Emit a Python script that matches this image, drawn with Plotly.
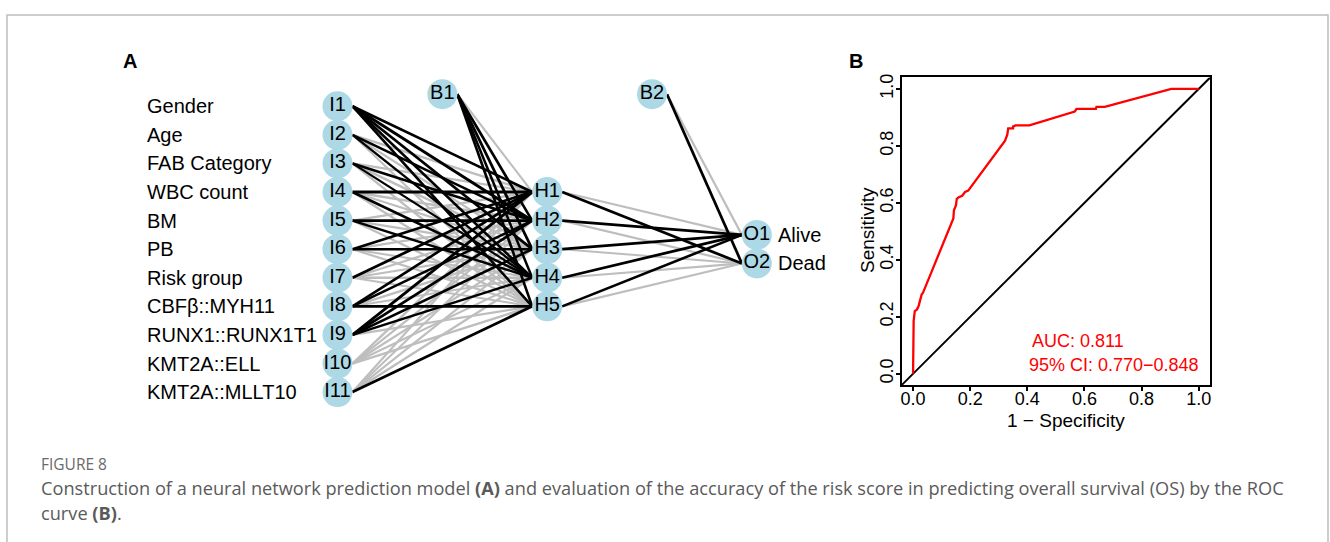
import plotly.graph_objects as go

# ---------------- data ----------------
input_labels = ["Gender", "Age", "FAB Category", "WBC count", "BM", "PB",
                "Risk group", "CBF\u03b2::MYH11", "RUNX1::RUNX1T1",
                "KMT2A::ELL", "KMT2A::MLLT10"]
input_nodes = [f"I{i}" for i in range(1, 12)]
hidden_nodes = ["H1", "H2", "H3", "H4", "H5"]
output_nodes = ["O1", "O2"]
output_labels = ["Alive", "Dead"]

# input -> hidden weights (rows: I1..I11, cols: H1..H5)
w_input_hidden = [
    [0.8, 1.0, 0.9, 0.7, 0.8],
    [-0.6, 0.7, -0.5, 0.6, -0.4],
    [-0.5, 0.8, -0.6, 0.5, -0.6],
    [1.0, -0.6, -0.5, 0.8, -0.6],
    [-0.6, 0.9, -0.5, 0.7, -0.5],
    [0.8, -0.5, 0.7, -0.4, -0.5],
    [0.9, -0.5, -0.5, -0.6, -0.4],
    [0.8, 0.7, -0.5, -0.4, 0.9],
    [1.0, 0.9, 0.8, 0.7, -0.5],
    [-0.6, -0.5, -0.5, -0.4, -0.6],
    [-0.5, -0.4, -0.5, -0.6, 0.9],
]
w_bias1_hidden = [-0.4, 0.8, 0.9, 0.7, 0.8]
# hidden -> output weights (rows: H1..H5, cols: O1, O2)
w_hidden_output = [
    [-0.5, 0.9],
    [0.9, -0.5],
    [0.8, -0.4],
    [0.9, -0.5],
    [0.8, -0.5],
]
w_bias2_output = [-0.5, 0.9]

# ROC curve of the risk score
fpr = [0.000, 0.000, 0.002, 0.006, 0.013, 0.017, 0.020, 0.030, 0.035, 0.141,
       0.143, 0.150, 0.153, 0.160, 0.172, 0.182, 0.193, 0.322, 0.330, 0.333,
       0.350, 0.350, 0.359, 0.407, 0.566, 0.572, 0.640, 0.642, 0.671, 0.904,
       1.000]
tpr = [0.000, 0.110, 0.185, 0.220, 0.225, 0.232, 0.240, 0.278, 0.285, 0.545,
       0.574, 0.591, 0.614, 0.620, 0.625, 0.638, 0.643, 0.818, 0.840, 0.861,
       0.861, 0.868, 0.872, 0.872, 0.920, 0.930, 0.930, 0.937, 0.937, 1.000,
       1.000]
auc_value = 0.811
ci_low, ci_high = 0.770, 0.848
roc_ticks = [0.0, 0.2, 0.4, 0.6, 0.8, 1.0]

# ---------------- styling / layout ----------------
W, H = 1330, 542
FONT = "Liberation Sans, Arial, sans-serif"
CAP_FONT = "Open Sans, sans-serif"
NODE_COLOR = "#ADD8E6"
POS_COLOR = "black"
NEG_COLOR = "#BEBEBE"

# network geometry in axis units (layers on x, node slots on y)
X_IN, X_HID, X_OUT = 1.0, 2.0, 3.0
X_B1, X_B2 = 1.5, 2.5
Y_BIAS = -0.42
CENTER = (len(input_nodes) - 1) / 2
NODE_R = 15 / 210  # node radius in x-axis units


def layer_y(n):
    return [CENTER + (j - (n - 1) / 2) for j in range(n)]


y_in = layer_y(len(input_nodes))
y_hid = layer_y(len(hidden_nodes))
y_out = layer_y(len(output_nodes))

fig = go.Figure()
max_w = max(abs(v) for row in w_input_hidden + w_hidden_output for v in row)


def edge(x0, y0, x1, y1, w):
    fig.add_trace(go.Scatter(
        x=[x0 + NODE_R, x1 - NODE_R], y=[y0, y1], mode="lines",
        line=dict(color=POS_COLOR if w > 0 else NEG_COLOR,
                  width=1.5 + 1.4 * abs(w) / max_w),
        hoverinfo="skip", showlegend=False, xaxis="x", yaxis="y"))


# grey (negative) edges first, black (positive) edges drawn on top
for sign_pass in (False, True):
    for i, yi in enumerate(y_in):
        for j, yj in enumerate(y_hid):
            w = w_input_hidden[i][j]
            if (w > 0) == sign_pass:
                edge(X_IN, yi, X_HID, yj, w)
    for j, yj in enumerate(y_hid):
        w = w_bias1_hidden[j]
        if (w > 0) == sign_pass:
            edge(X_B1, Y_BIAS, X_HID, yj, w)
    for j, yj in enumerate(y_hid):
        for k, yk in enumerate(y_out):
            w = w_hidden_output[j][k]
            if (w > 0) == sign_pass:
                edge(X_HID, yj, X_OUT, yk, w)
    for k, yk in enumerate(y_out):
        w = w_bias2_output[k]
        if (w > 0) == sign_pass:
            edge(X_B2, Y_BIAS, X_OUT, yk, w)

# nodes
node_x = ([X_IN] * len(input_nodes) + [X_HID] * len(hidden_nodes)
          + [X_OUT] * len(output_nodes) + [X_B1, X_B2])
node_y = y_in + y_hid + y_out + [Y_BIAS, Y_BIAS]
node_t = input_nodes + hidden_nodes + output_nodes + ["B1", "B2"]
fig.add_trace(go.Scatter(
    x=node_x, y=node_y, text=node_t, mode="markers+text",
    textposition="middle center",
    textfont=dict(family=FONT, size=20, color="black"),
    marker=dict(size=30, color=NODE_COLOR, line=dict(width=0)),
    hoverinfo="skip", showlegend=False, xaxis="x", yaxis="y"))

annotations = []
LABEL_X = X_IN - 193 / 210
for lab, yy in zip(input_labels, y_in):
    annotations.append(dict(x=LABEL_X, y=yy, xref="x", yref="y", text=lab,
                            showarrow=False, xanchor="left", yanchor="middle",
                            font=dict(family=FONT, size=20, color="black")))
for lab, yy in zip(output_labels, y_out):
    annotations.append(dict(x=X_OUT + 19 / 210, y=yy, xref="x", yref="y",
                            text=lab, showarrow=False, xanchor="left",
                            yanchor="middle",
                            font=dict(family=FONT, size=20, color="black")))

# ROC panel
fig.add_trace(go.Scatter(
    x=[-0.04, 1.04], y=[-0.04, 1.04], mode="lines",
    line=dict(color="black", width=2), hoverinfo="skip", showlegend=False,
    xaxis="x2", yaxis="y2", cliponaxis=False))
fig.add_trace(go.Scatter(
    x=fpr, y=tpr, mode="lines", line=dict(color="#FF0000", width=2.3),
    line_shape="linear", hoverinfo="skip", showlegend=False,
    xaxis="x2", yaxis="y2"))
annotations.append(dict(x=0.410, y=0.115, xref="x2", yref="y2",
                        text=f"AUC: {auc_value:.3f}", showarrow=False,
                        xanchor="left", yanchor="middle",
                        font=dict(family=FONT, size=18, color="#FF0000")))
annotations.append(dict(x=0.400, y=0.031, xref="x2", yref="y2",
                        text=f"95% CI: {ci_low:.3f}\u2212{ci_high:.3f}",
                        showarrow=False, xanchor="left", yanchor="middle",
                        font=dict(family=FONT, size=18, color="#FF0000")))


def px_x(p):
    return p / W


def px_y(p):
    return 1 - p / H


def paper_text(x, y, text, size, color="black", family=FONT, xanchor="center",
               angle=0):
    return dict(x=px_x(x), y=px_y(y), xref="paper", yref="paper", text=text,
                showarrow=False, xanchor=xanchor, yanchor="middle",
                textangle=angle,
                font=dict(family=family, size=size, color=color))


annotations += [
    paper_text(1067, 420, "1 \u2212 Specificity", 19),
    paper_text(868, 228, "Sensitivity", 19, angle=-90),
    paper_text(129, 57, "<b>A</b>", 20),
    paper_text(856, 57, "<b>B</b>", 20),
    paper_text(38, 463, "FIGURE 8", 15.5, "#6a6a6a", CAP_FONT, "left"),
    paper_text(38, 488,
               "Construction of a neural network prediction model <b>(A)</b> and "
               "evaluation of the accuracy of the risk score in predicting overall "
               "survival (OS) by the ROC", 18.2, "#5a5a5a", CAP_FONT, "left"),
    paper_text(38, 513, "curve <b>(B)</b>.", 18.2, "#5a5a5a", CAP_FONT, "left"),
]

tick_text = [f"{t:.1f}" for t in roc_ticks]
fig.update_layout(
    width=W, height=H, autosize=False,
    margin=dict(l=0, r=0, t=0, b=0),
    paper_bgcolor="white", plot_bgcolor="white",
    font=dict(family=FONT),
    annotations=annotations,
    shapes=[dict(type="rect", xref="paper", yref="paper",
                 x0=px_x(6), x1=px_x(1329), y0=-0.2, y1=px_y(11),
                 line=dict(color="#BDBDBD", width=1.5), layer="below")],
    xaxis=dict(domain=[0, 850 / W],
               range=[X_IN - 337 / 210, X_IN + 513 / 210],
               visible=False, fixedrange=True),
    yaxis=dict(domain=[0, 1],
               range=[(542 - 103) / 28.8, -103 / 28.8],
               visible=False, fixedrange=True),
    xaxis2=dict(domain=[902 / W, 1211 / W], range=[-0.04, 1.04],
                anchor="y2", tickvals=roc_ticks, ticktext=tick_text,
                ticks="outside", ticklen=4, tickwidth=1.5, tickcolor="black",
                ticklabelstandoff=-8,
                showline=True, mirror=True, linecolor="black", linewidth=2,
                showgrid=False, zeroline=False,
                tickfont=dict(family=FONT, size=18, color="black")),
    yaxis2=dict(domain=[1 - 384 / H, 1 - 74 / H], range=[-0.04, 1.04],
                anchor="x2", tickvals=roc_ticks, ticktext=tick_text,
                ticks="outside", ticklen=4, tickwidth=1.5, tickcolor="black",
                tickangle=-90, ticklabelstandoff=-5,
                showline=True, mirror=True, linecolor="black", linewidth=2,
                showgrid=False, zeroline=False,
                tickfont=dict(family=FONT, size=18, color="black")),
)

fig.write_html("out.html")
